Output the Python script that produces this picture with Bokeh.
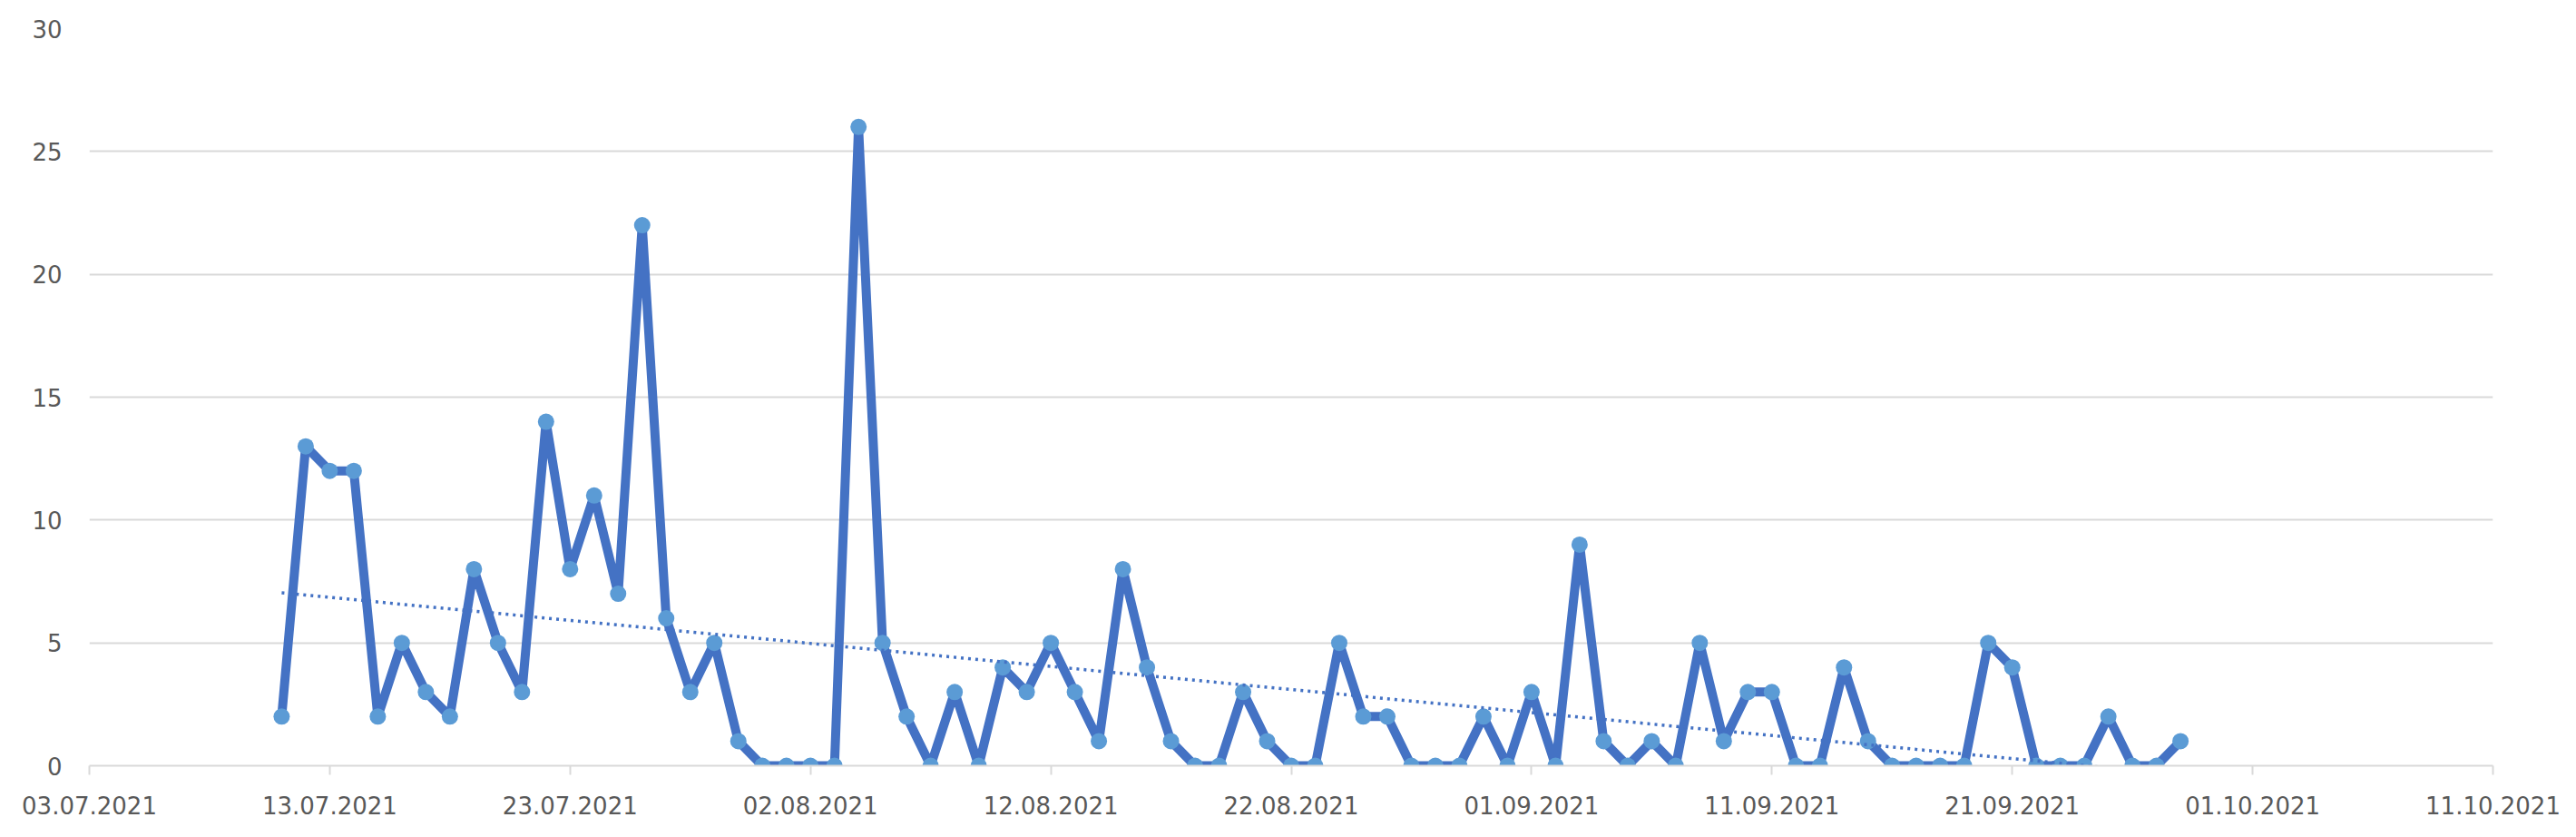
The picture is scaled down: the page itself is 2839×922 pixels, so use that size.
import numpy as np
import pandas as pd
from datetime import datetime
from bokeh.plotting import figure
from bokeh.models import Range1d, FixedTicker, DatetimeTickFormatter, ColumnDataSource
from bokeh.embed import file_html
from bokeh.resources import INLINE

# ---- data ----
start_date = "2021-07-11"
values_july = [2, 13, 12, 12, 2, 5, 3, 2, 8, 5, 3, 14, 8, 11, 7, 22, 6, 3, 5, 1, 0]
values_aug = [0, 0, 0, 26, 5, 2, 0, 3, 0, 4, 3, 5, 3, 1, 8, 4, 1, 0, 0, 3, 1, 0, 0, 5, 2, 2, 0, 0, 0, 2, 0]
values_sep = [3, 0, 9, 1, 0, 1, 0, 5, 1, 3, 3, 0, 0, 4, 1, 0, 0, 0, 0, 5, 4, 0, 0, 0, 2, 0, 0, 1]
x_tick_labels = ["03.07.2021", "13.07.2021", "23.07.2021", "02.08.2021", "12.08.2021",
                 "22.08.2021", "01.09.2021", "11.09.2021", "21.09.2021", "01.10.2021", "11.10.2021"]
y_ticks = [0, 5, 10, 15, 20, 25, 30]

values = values_july + values_aug + values_sep
dates = pd.date_range(start_date, periods=len(values), freq="D")
src = ColumnDataSource(dict(x=dates, y=values))

# linear trend (least squares), as the spreadsheet trendline
days = np.arange(len(values), dtype=float)
k, b = np.polyfit(days, np.array(values, dtype=float), 1)
trend_src = ColumnDataSource(dict(x=[dates[0], dates[-1]], y=[b, k * days[-1] + b]))

tick_dates = [datetime.strptime(s, "%d.%m.%Y") for s in x_tick_labels]
tick_ms = [(d - datetime(1970, 1, 1)).total_seconds() * 1000 for d in tick_dates]

p = figure(width=2823, height=906, x_axis_type="datetime", output_backend="svg",
           toolbar_location=None, min_border_left=98, min_border_right=76,
           min_border_top=31, min_border_bottom=63)
p.x_range = Range1d(tick_dates[0], tick_dates[-1])
p.y_range = Range1d(0, 30)
p.outline_line_color = None
p.background_fill_color = "white"

# grid
p.xgrid.grid_line_color = None
p.ygrid.grid_line_color = "#D9D9D9"
p.ygrid.grid_line_width = 2

# axes
fmt = "%d.%m.%Y"
p.xaxis.ticker = FixedTicker(ticks=tick_ms)
p.xaxis.formatter = DatetimeTickFormatter(milliseconds=fmt, seconds=fmt, minsec=fmt, minutes=fmt,
                                          hourmin=fmt, hours=fmt, days=fmt, months=fmt, years=fmt)
p.yaxis.ticker = FixedTicker(ticks=y_ticks)
for ax in (p.xaxis, p.yaxis):
    ax.major_label_text_font = "DejaVu Sans"
    ax.major_label_text_font_size = "26px"
    ax.major_label_text_color = "#595959"
    ax.minor_tick_line_color = None
    ax.major_tick_in = 0
p.xaxis.axis_line_color = "#D9D9D9"
p.xaxis.axis_line_width = 2
p.xaxis.major_tick_line_color = "#D9D9D9"
p.xaxis.major_tick_line_width = 2
p.xaxis.major_tick_out = 10
p.xaxis.major_label_standoff = 23
p.yaxis.axis_line_color = None
p.yaxis.major_tick_line_color = None
p.yaxis.major_tick_out = 0
p.yaxis.major_label_standoff = 30

# series
p.line("x", "y", source=src, line_color="#4472C4", line_width=10, line_join="round")
p.scatter("x", "y", source=src, size=18, fill_color="#5B9BD5", line_color=None)
p.line("x", "y", source=trend_src, line_color="#4472C4", line_width=3.5, line_dash="3 5")

open("out.html", "w").write(file_html(p, INLINE))
